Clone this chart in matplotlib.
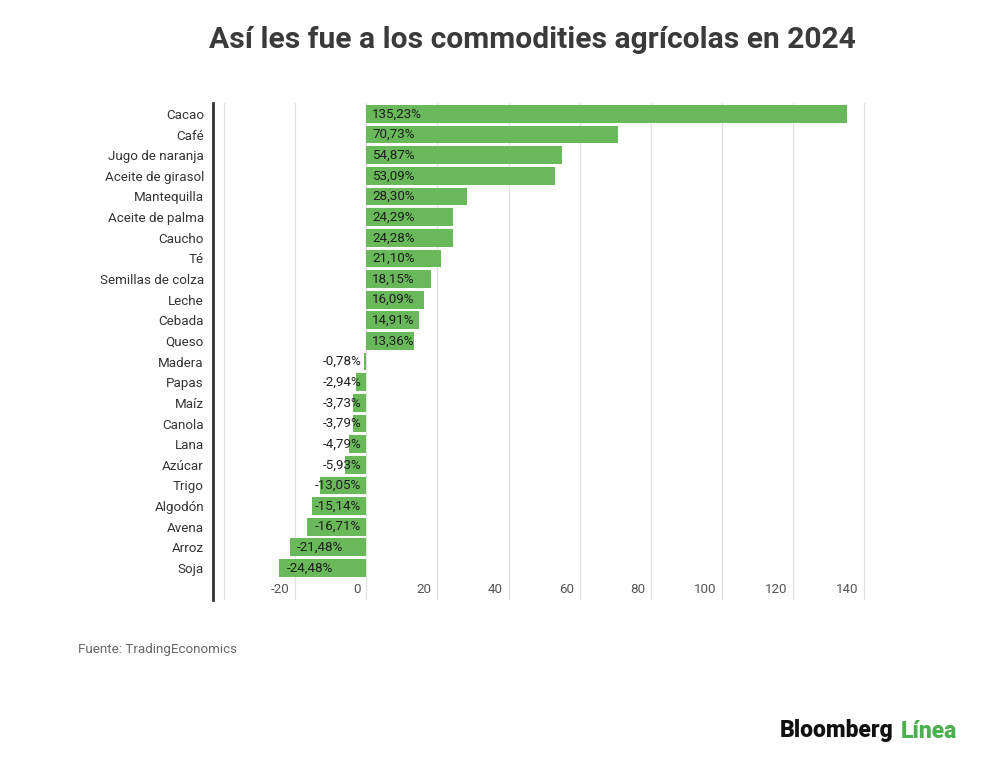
import matplotlib
matplotlib.use("Agg")
import matplotlib.pyplot as plt
import matplotlib.transforms as mtransforms

plt.rcParams['font.family'] = ['Roboto', 'DejaVu Sans']

categories = ["Cacao", "Café", "Jugo de naranja", "Aceite de girasol", "Mantequilla",
              "Aceite de palma", "Caucho", "Té", "Semillas de colza", "Leche", "Cebada",
              "Queso", "Madera", "Papas", "Maíz", "Canola", "Lana", "Azúcar", "Trigo",
              "Algodón", "Avena", "Arroz", "Soja"]
values = [135.23, 70.73, 54.87, 53.09, 28.30, 24.29, 24.28, 21.10, 18.15, 16.09, 14.91,
          13.36, -0.78, -2.94, -3.73, -3.79, -4.79, -5.93, -13.05, -15.14, -16.71,
          -21.48, -24.48]
tick_values = [-40, -20, 0, 20, 40, 60, 80, 100, 120, 140]
tick_labels = ["", "-20", "0", "20", "40", "60", "80", "100", "120", "140"]

title = "Así les fue a los commodities agrícolas en 2024"
source = "Fuente: TradingEconomics"

bar_color = "#69b85a"
fig = plt.figure(figsize=(10, 7.63), dpi=100)
ax = fig.add_axes([0.213, 1 - 600 / 763, 0.6535, (600 - 103) / 763])

ypos = list(range(len(categories)))
ax.barh(ypos, values, height=0.86, color=bar_color, zorder=2)
ax.set_ylim(23.55, -0.53)
ax.set_xlim(-43.1, 140.6)

fs = 9.6
ax.set_yticks(ypos)
ax.set_yticklabels(categories, fontsize=fs, color="#333333")
ax.tick_params(axis='y', length=0, pad=6.5)

ax.set_xticks(tick_values)
ax.set_xticklabels(tick_labels, fontsize=fs, color="#555555")
ax.tick_params(axis='x', length=0, pad=-12)
offset = mtransforms.ScaledTranslation(-0.06, 0, fig.dpi_scale_trans)
for lab in ax.get_xticklabels():
    lab.set_horizontalalignment('right')
    lab.set_transform(lab.get_transform() + offset)

ax.grid(axis='x', color="#e2e2e2", linewidth=1, zorder=0)
ax.set_axisbelow(True)
for s in ['top', 'right', 'bottom']:
    ax.spines[s].set_visible(False)
ax.spines['left'].set_color("#333333")
ax.spines['left'].set_linewidth(2)

px = 1 / 3.55  # data units per pixel
for y, v in zip(ypos, values):
    txt = f"{v:.2f}".replace('.', ',') + "%"
    if v >= 0:
        ax.text(6 * px, y, txt, ha='left', va='center', fontsize=fs, color="#1e1e1e", zorder=3)
    elif v < -18:
        ax.text(v + 7 * px, y, txt, ha='left', va='center', fontsize=fs, color="#1e1e1e", zorder=3)
    else:
        ax.text(-5 * px, y, txt, ha='right', va='center', fontsize=fs, color="#1e1e1e", zorder=3)

fig.text(0.532, 1 - 40 / 763, title, ha='center', va='center', fontsize=21.6,
         fontweight='bold', color="#3a3a3a")
fig.text(0.078, 1 - 650 / 763, source, ha='left', va='center', fontsize=9.6, color="#666666")

t1 = fig.text(0.780, 1 - 731 / 763, "Bloomberg", ha='left', va='center', fontsize=16.5,
              fontweight='heavy', color="#111111")
fig.canvas.draw()
bb = t1.get_window_extent()
fig.text(bb.x1 / 1000 + 0.007, 1 - 731 / 763, "Línea", ha='left', va='center', fontsize=16.5,
         fontweight='heavy', color="#4caf50")

fig.savefig("out.png", dpi=100, facecolor='white')
